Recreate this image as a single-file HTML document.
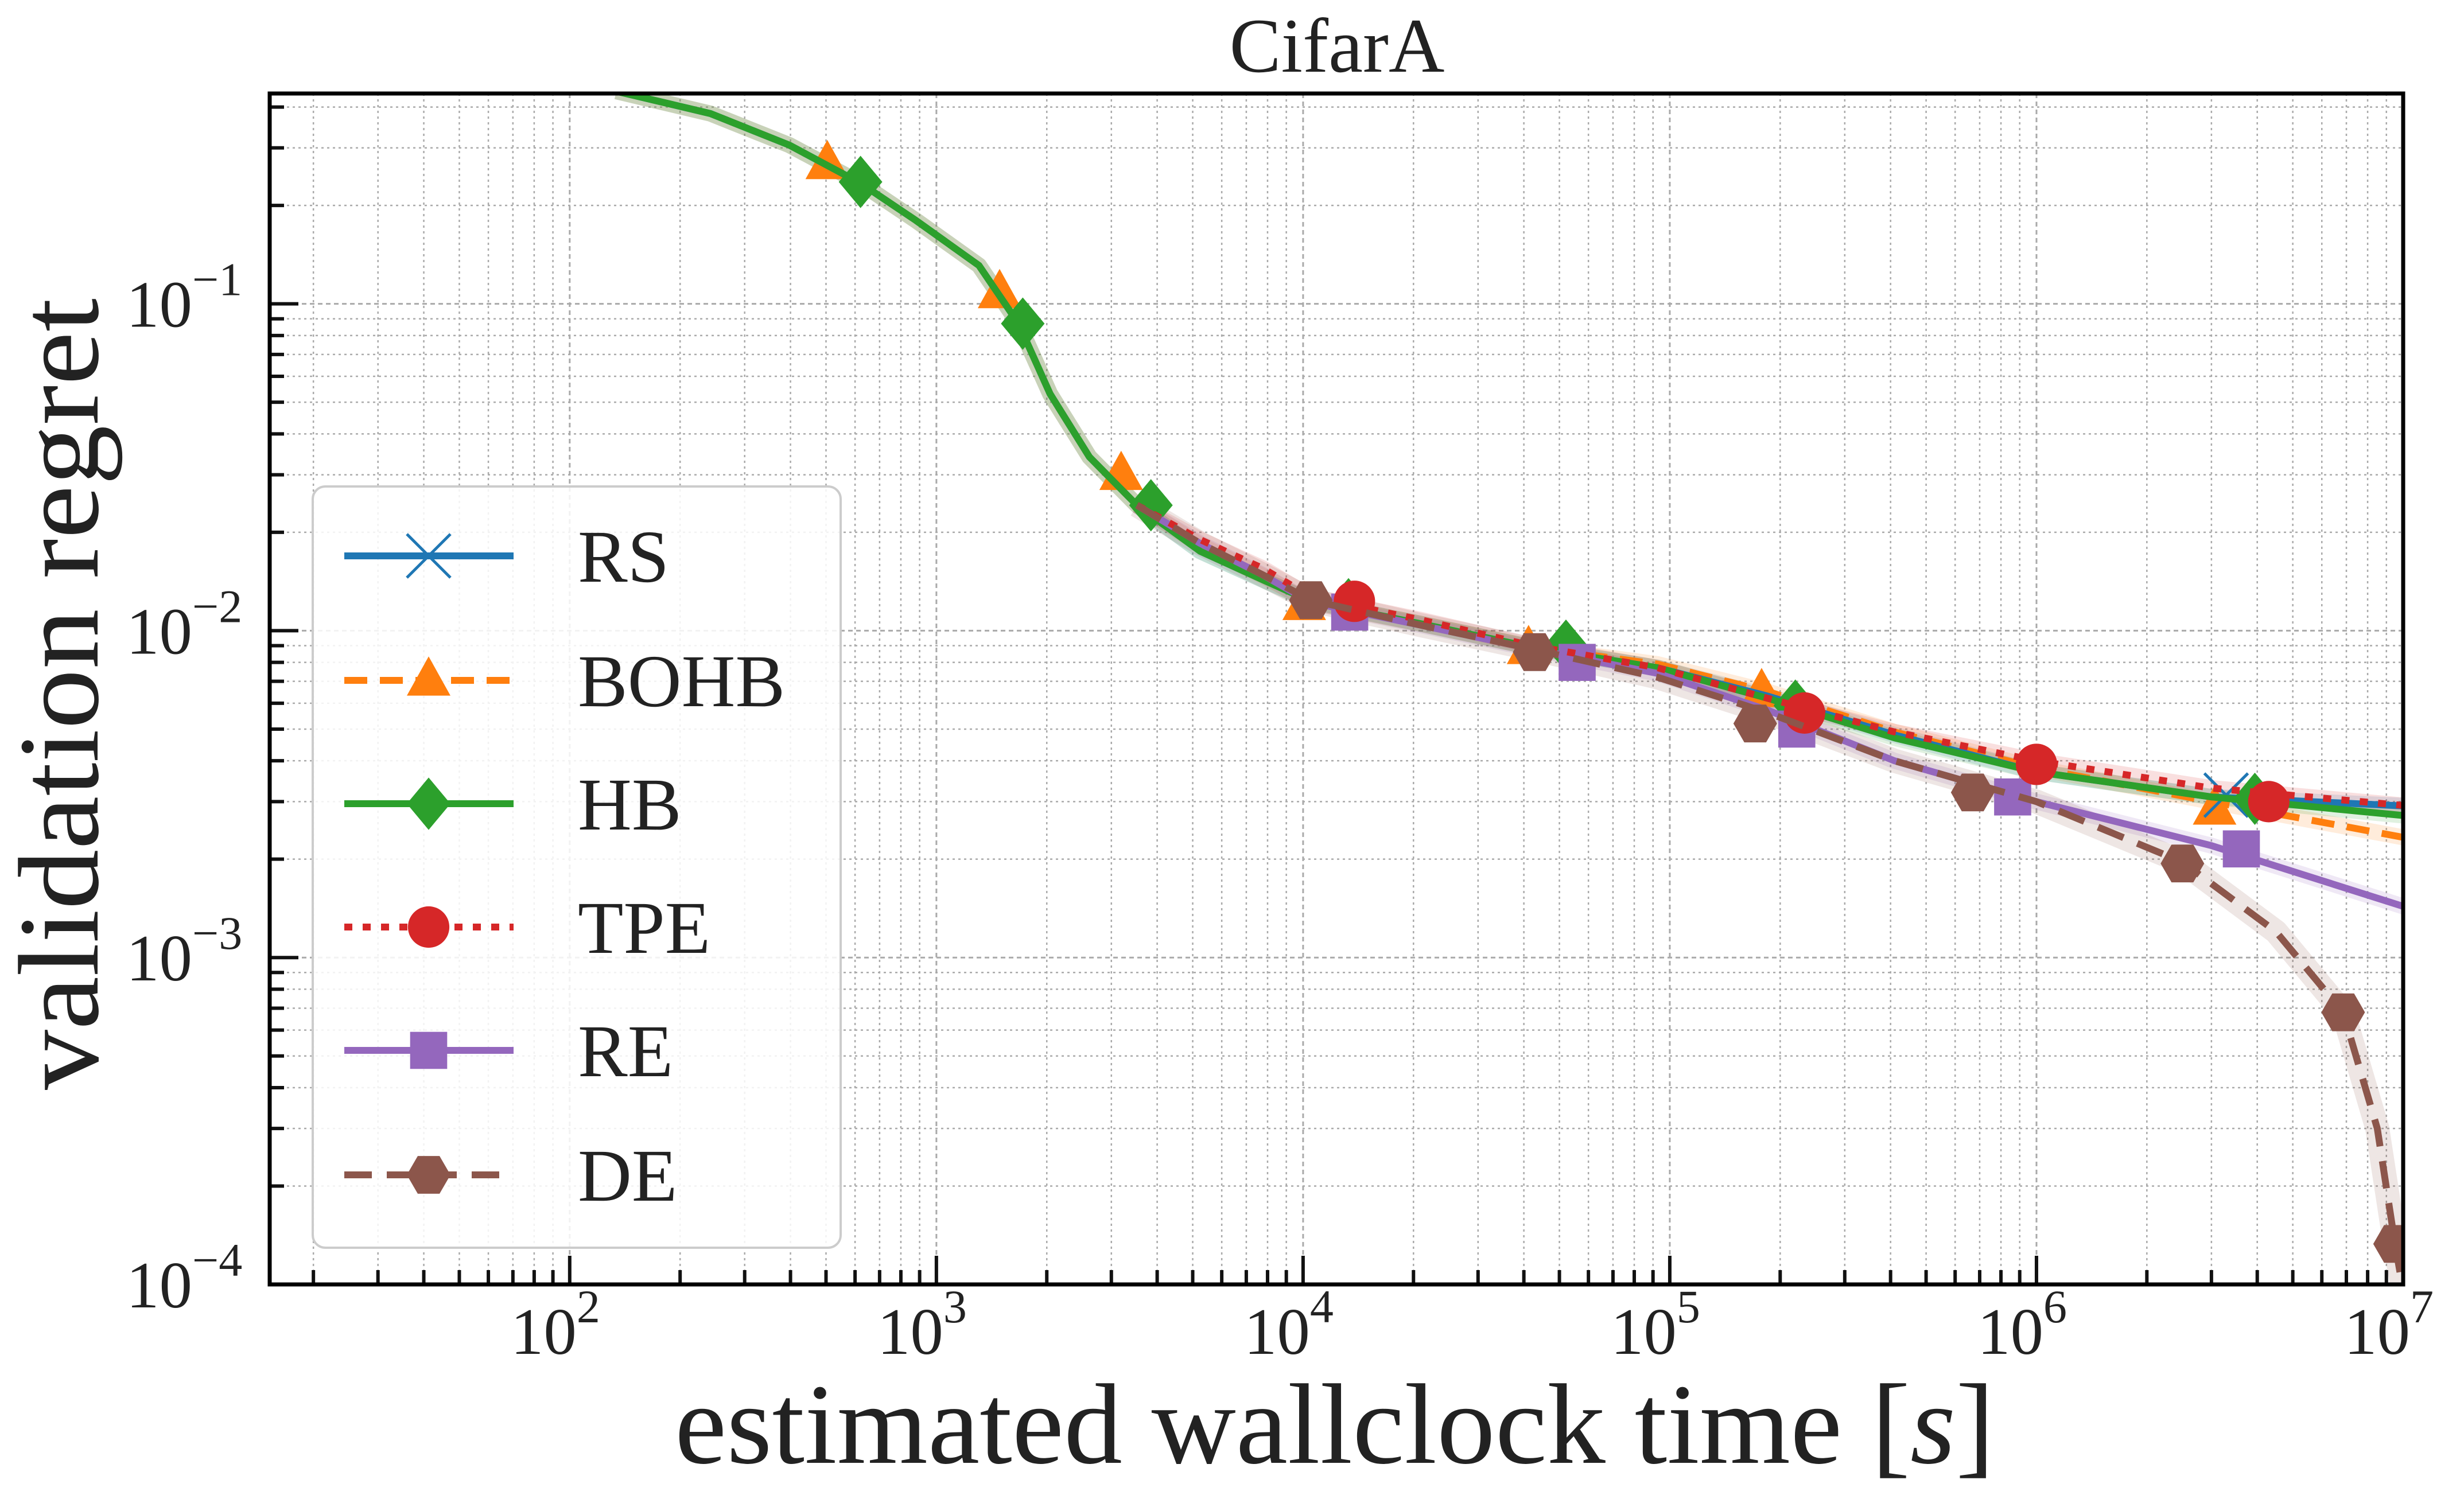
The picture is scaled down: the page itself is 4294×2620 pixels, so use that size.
<!DOCTYPE html>
<html><head><meta charset="utf-8"><style>
html,body{margin:0;padding:0;background:#fff;}
svg{display:block;font-family:"Liberation Serif",serif;}
</style></head><body>
<svg id="chart" width="4294" height="2620" viewBox="0 0 4294 2620" xmlns="http://www.w3.org/2000/svg">
<rect width="4294" height="2620" fill="#fff"/>
<g id="grid"></g>
<g id="series"></g>
<g id="axes"></g>
<text x="2330" y="125" font-size="135" text-anchor="middle" fill="#222">CifarA</text>
<text x="2326" y="2550" font-size="200" text-anchor="middle" fill="#222" textLength="2300" lengthAdjust="spacingAndGlyphs">estimated wallclock time [<tspan font-style="italic">s</tspan>]</text>
<text transform="translate(170,1210) rotate(-90)" font-size="200" text-anchor="middle" fill="#222" textLength="1380" lengthAdjust="spacingAndGlyphs">validation regret</text>
<g id="legend"></g>
</svg>
<script>
const xTicks = [2,3,4,5,6,7];
const yTicks = [-4,-3,-2,-1];
const seriesNames = ["RS","BOHB","HB","TPE","RE","DE"];
const seriesColors = ["#1f77b4","#ff7f0e","#2ca02c","#d62728","#9467bd","#8c564b"];
const commonX = [134,242,397,621,879,1306,1675,2042,2614,3524];
const commonY = [0.447,0.382,0.306,0.234,0.180,0.131,0.087,0.053,0.034,0.0242];
const lateX = [5240,7780,10500,20900,42000,92700,186000,410000,1e6,3e6,1.07e7];
const rsY = [0.0175,0.0143,0.0123,0.0105,0.0089,0.0077,0.0063,0.0048,0.0037,0.0031,0.0029];
const bohbY = [0.0183,0.0147,0.0122,0.0105,0.0089,0.0079,0.0065,0.0049,0.0038,0.0030,0.0023];
const hbY = [0.0175,0.0143,0.0123,0.0105,0.0089,0.0077,0.0062,0.0047,0.0037,0.0031,0.0027];
const tpeY = [0.019,0.0155,0.0127,0.0108,0.0090,0.0077,0.0062,0.0049,0.0040,0.0033,0.0029];
const reY = [0.0185,0.0148,0.0122,0.0104,0.0088,0.0074,0.0057,0.0040,0.0030,0.0022,0.0014];
const deX = [3524,5240,7780,10500,20900,42000,92700,186000,410000,1e6,2.5e6,4.5e6,6.86e6,8.5e6,9.5e6,1.05e7];
const deY = [0.0242,0.0185,0.0148,0.0124,0.0104,0.0088,0.0072,0.0056,0.0040,0.0030,0.00196,0.0012,0.00068,0.00030,0.000133,0.00007];
const rsMX=[3.29e6], rsMY=[0.00314];
const bohbMX=[504,1487,3190,10070,41200,178000,3.06e6], bohbMY=[0.268,0.108,0.030,0.0120,0.0088,0.0065,0.00284];
const hbMX=[621,1720,3846,13300,52100,220000,3.94e6], hbMY=[0.236,0.087,0.0242,0.01205,0.0090,0.0059,0.00306];
const tpeMX=[13800,233000,1e6,4.3e6], tpeMY=[0.0123,0.0056,0.0039,0.0030];
const reMX=[13400,55900,222000,861000,3.62e6], reMY=[0.0114,0.0080,0.0050,0.0031,0.00215];
const deMX=[10500,42800,171000,670000,2.5e6,6.86e6,9.5e6], deMY=[0.0124,0.0086,0.0052,0.0032,0.00194,0.00068,0.000133];

const L=470,R=4188,T=163,B=2239;
const X0=Math.log10(15.2),X1=7, Y0=-4, Y1=Math.log10(0.44);
const sx=v=>L+(Math.log10(v)-X0)/(X1-X0)*(R-L);
const sy=v=>B-(Math.log10(v)-Y0)/(Y1-Y0)*(B-T);
const NS="http://www.w3.org/2000/svg";
function mk(tag,attrs,parent){const e=document.createElementNS(NS,tag);for(const k in attrs)e.setAttribute(k,attrs[k]);parent.appendChild(e);return e;}
const grid=document.getElementById('grid'),axes=document.getElementById('axes'),ser=document.getElementById('series'),leg=document.getElementById('legend');

for(let d=1;d<=6;d++){for(let m=1;m<10;m++){const v=m*Math.pow(10,d);if(v<15.2||v>1e7)continue;const x=sx(v);
 const g=mk('line',{x1:x,x2:x,y1:T,y2:B,stroke:'#aaa','stroke-width':m==1?3:2.5,'stroke-dasharray':m==1?'8,6':'4,6'},grid);
 
 const t=mk('line',{x1:x,x2:x,y1:B,y2:B-(m==1?50:25),stroke:'#111','stroke-width':6},axes);
 }}
for(let d=-4;d<=-1;d++){for(let m=1;m<10;m++){const v=m*Math.pow(10,d);if(v>0.44)continue;const y=sy(v);
 const g=mk('line',{x1:L,x2:R,y1:y,y2:y,stroke:'#aaa','stroke-width':m==1?3:2.5,'stroke-dasharray':m==1?'8,6':'4,6'},grid);
 
 const t=mk('line',{x1:L,x2:L+(m==1?50:25),y1:y,y2:y,stroke:'#111','stroke-width':6},axes);
 }}
const frame=mk('rect',{x:L,y:T,width:R-L,height:B-T,fill:'none',stroke:'#000','stroke-width':7},axes);

xTicks.forEach(p=>{const x=sx(Math.pow(10,p));
 const t=mk('text',{x:x-25,y:2360,'font-size':115,'text-anchor':'middle',fill:'#222'},axes);
 
 t.innerHTML='10<tspan dy="-55" font-size="82">'+p+'</tspan>';});
yTicks.forEach(p=>{const y=sy(Math.pow(10,p));
 const t=mk('text',{x:220,y:y+40,'font-size':115,'text-anchor':'start',fill:'#222'},axes);
 
 t.innerHTML='10<tspan dy="-55" font-size="82">−'+(-p)+'</tspan>';});

function path(xs,ys){return xs.map((v,i)=>(i?'L':'M')+sx(v).toFixed(1)+','+sy(ys[i]).toFixed(1)).join(' ');}
const dashes=['', '40,22', '', '14,18', '', '48,26'];
function marker(type,x,y,c,parent,s){
 let e;
 if(type=='x'){e=mk('path',{d:`M${x-s},${y-s}L${x+s},${y+s}M${x-s},${y+s}L${x+s},${y-s}`,stroke:c,'stroke-width':5,fill:'none'},parent);}
 else if(type=='tri'){e=mk('polygon',{points:`${x},${y-s*1.1} ${x-s},${y+s*0.7} ${x+s},${y+s*0.7}`,fill:c},parent);}
 else if(type=='dia'){e=mk('polygon',{points:`${x},${y-s*1.2} ${x+s},${y} ${x},${y+s*1.2} ${x-s},${y}`,fill:c},parent);}
 else if(type=='circ'){e=mk('circle',{cx:x,cy:y,r:s*0.95,fill:c},parent);}
 else if(type=='sq'){e=mk('rect',{x:x-s*0.85,y:y-s*0.85,width:s*1.7,height:s*1.7,fill:c},parent);}
 else {let p=[];for(let k=0;k<6;k++){const a=Math.PI/3*k;p.push((x+s*Math.cos(a)).toFixed(1)+','+(y+s*Math.sin(a)).toFixed(1));}e=mk('polygon',{points:p.join(' '),fill:c},parent);}
 return e;}
const mtypes=['x','tri','dia','circ','sq','hex'];
const lineData=[
 [commonX.concat(lateX),commonY.concat(rsY)],
 [commonX.concat(lateX),commonY.concat(bohbY)],
 [commonX.concat(lateX),commonY.concat(hbY)],
 [[3524].concat(lateX),[0.0242].concat(tpeY)],
 [[3524].concat(lateX),[0.0242].concat(reY)],
 [deX,deY]];
const markData=[[rsMX,rsMY],[bohbMX,bohbMY],[hbMX,hbMY],[tpeMX,tpeMY],[reMX,reMY],[deMX,deMY]];
const cp=mk('clipPath',{id:'clip'},ser);mk('rect',{x:L,y:T,width:R-L,height:B-T},cp);
const pg=mk('g',{'clip-path':'url(#clip)'},ser);
[0,1,2,3,4,5].forEach(i=>{const b=mk('path',{d:path(lineData[i][0],lineData[i][1]),fill:'none',stroke:seriesColors[i],'stroke-opacity':0.15,'stroke-width':i==5?42:28,'stroke-linejoin':'round'},pg);
 });
[1,0,2,4,3,5].forEach(i=>{
 const p=mk('path',{d:path(lineData[i][0],lineData[i][1]),fill:'none',stroke:seriesColors[i],'stroke-width':12,'stroke-linejoin':'round'},pg);
 if(dashes[i])p.setAttribute('stroke-dasharray',dashes[i]);
 
 const [mx,my]=markData[i];
 mx.forEach((v,k)=>{const m=marker(mtypes[i],sx(v),sy(my[k]),seriesColors[i],pg,38);
  });
});
const lb=mk('rect',{x:545,y:848,width:920,height:1327,rx:22,fill:'#fff','fill-opacity':0.85,stroke:'#ccc','stroke-width':4},leg);

const ly=[969,1186,1401,1616,1831,2048];
seriesNames.forEach((n,i)=>{
 const g=mk('g',{},leg);
 
 const l=mk('line',{x1:600,x2:895,y1:ly[i],y2:ly[i],stroke:seriesColors[i],'stroke-width':12},g);
 if(dashes[i])l.setAttribute('stroke-dasharray',dashes[i]);
 marker(mtypes[i],747,ly[i],seriesColors[i],g,38);
 const t=mk('text',{x:1007,y:ly[i]+45,'font-size':130,fill:'#222'},g);t.textContent=n;});
</script>
</body></html>
